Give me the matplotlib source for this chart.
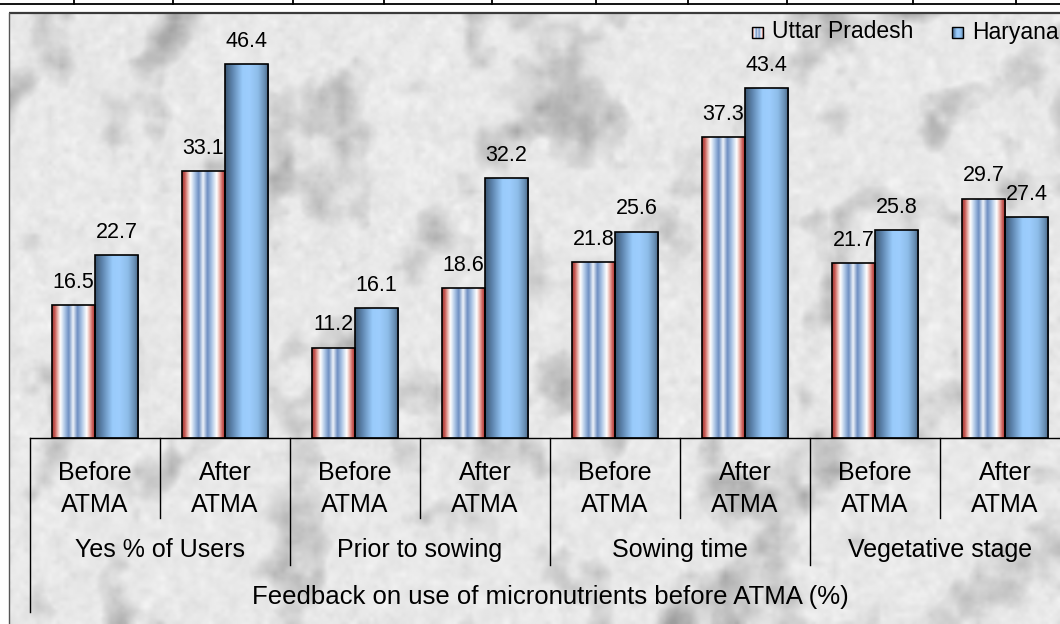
import numpy as np
import matplotlib
matplotlib.use("Agg")
import matplotlib.pyplot as plt
from matplotlib.colors import LinearSegmentedColormap
from matplotlib.patches import Rectangle

# ---- data -------------------------------------------------------------
stages = ["Yes % of Users", "Prior to sowing", "Sowing time", "Vegetative stage"]
periods = ["Before\nATMA", "After\nATMA"]
uttar_pradesh = [16.5, 33.1, 11.2, 18.6, 21.8, 37.3, 21.7, 29.7]
haryana = [22.7, 46.4, 16.1, 32.2, 25.6, 43.4, 25.8, 27.4]
series_names = ["Uttar Pradesh", "Haryana"]
axis_title = "Feedback on use of micronutrients before ATMA (%)"

# ---- figure / coordinate frame ---------------------------------------
W, H = 1060, 624
fig = plt.figure(figsize=(W / 100, H / 100), dpi=100)
ax = fig.add_axes([0, 0, 1, 1])
ax.set_axis_off()

CAT_PX = 130.0        # width of one category in pixels
X0_PX = 30.0          # left edge of first category
BASE_PX = 438.0       # baseline row
UNIT_PX = 8.06        # pixels per percentage point


def px2x(px):
    return (px - X0_PX) / CAT_PX - 0.5


def py2y(py):
    return (BASE_PX - py) / UNIT_PX


ax.set_xlim(px2x(0), px2x(W))
ax.set_ylim(py2y(H), py2y(0))

plt.rcParams["font.family"] = ["Liberation Sans", "DejaVu Sans"]

# ---- marble background panel -----------------------------------------
rng = np.random.default_rng(11)


def upsample(a, shape):
    r = np.linspace(0, a.shape[0] - 1, shape[0])
    c = np.linspace(0, a.shape[1] - 1, shape[1])
    tmp = np.array([np.interp(c, np.arange(a.shape[1]), row) for row in a])
    out = np.array([np.interp(r, np.arange(a.shape[0]), col) for col in tmp.T]).T
    return out


def octave_noise(th, tw, octaves):
    acc = np.zeros((th, tw))
    for n, amp in octaves:
        small = rng.standard_normal((max(2, n * th // tw) + 2, n + 2))
        acc += amp * upsample(small, (th, tw))
    return acc


th, tw = 300, 520
warp = octave_noise(th, tw, [(5, 1.0), (10, 0.6), (20, 0.35)])
mottle = octave_noise(th, tw, [(8, 0.6), (18, 0.8), (40, 0.7), (90, 0.45)])
grain = octave_noise(th, tw, [(130, 0.6), (260, 0.4)])
yy, xx = np.mgrid[0:th, 0:tw]
streak = 0.5 + 0.5 * np.sin(xx * 0.05 + yy * 0.035 + warp * 2.5)
dark = np.clip(mottle * 0.5 + streak ** 2 * 0.9 - 0.5, 0, None)
tex = 0.91 - 0.17 * dark + 0.025 * grain
tex = np.clip(tex, 0.62, 0.98)

px_left, px_top = 9, 13
ax.imshow(tex, cmap="gray", vmin=0, vmax=1, interpolation="bilinear",
          extent=(px2x(px_left), px2x(W), py2y(H), py2y(px_top)),
          aspect="auto", zorder=0)
ax.plot([px2x(px_left), px2x(W)], [py2y(px_top), py2y(px_top)],
        color="#3a3a3a", lw=1.6, zorder=1, solid_capstyle="butt")
ax.plot([px2x(px_left), px2x(px_left)], [py2y(px_top), py2y(H)],
        color="#555555", lw=1.0, zorder=1)

# thin table rule above the panel
ax.plot([px2x(0), px2x(W)], [py2y(4.4), py2y(4.4)], color="black", lw=1.3, zorder=1)
for tx in [74, 173, 293, 384, 492, 596, 688, 787, 913, 1016]:
    ax.plot([px2x(tx), px2x(tx)], [py2y(0), py2y(4.4)], color="black", lw=1.3, zorder=1)

# ---- bars ---------------------------------------------------------------
up_cmap = LinearSegmentedColormap.from_list("up", [
    (0.00, "#9c3b36"), (0.06, "#c4544f"), (0.13, "#e9b4ad"), (0.19, "#ffffff"),
    (0.29, "#aec7e6"), (0.38, "#6e8fc2"), (0.48, "#eef3fa"), (0.58, "#6e8fc2"),
    (0.68, "#aec7e6"), (0.79, "#ffffff"), (0.86, "#e9b4ad"), (0.93, "#c4544f"),
    (1.00, "#9c3b36")])
hr_cmap = LinearSegmentedColormap.from_list("hr", [
    (0.00, "#3b5673"), (0.18, "#6189b3"), (0.40, "#99cbfb"), (0.55, "#9dcdfd"),
    (0.75, "#8ebde9"), (0.90, "#6a90b6"), (1.00, "#45617f")])

x = np.arange(len(uttar_pradesh))
bw = 0.331
grad = np.linspace(0, 1, 256).reshape(1, -1)


def gradient_bars(xs, vals, cmap):
    bars = ax.bar(xs, vals, width=bw, facecolor="none", edgecolor="black",
                  linewidth=1.2, zorder=4)
    for b in bars:
        x0, w, h = b.get_x(), b.get_width(), b.get_height()
        im = ax.imshow(grad, cmap=cmap, extent=(x0, x0 + w, 0, h),
                       aspect="auto", interpolation="bilinear", zorder=3)
        im.set_clip_path(b)
    return bars


up_bars = gradient_bars(x - bw / 2, uttar_pradesh, up_cmap)
hr_bars = gradient_bars(x + bw / 2, haryana, hr_cmap)

for bars, vals in [(up_bars, uttar_pradesh), (hr_bars, haryana)]:
    for b, v in zip(bars, vals):
        ax.annotate(f"{v:.1f}", (b.get_x() + b.get_width() / 2, v),
                    xytext=(0, 16.5), textcoords="offset points",
                    ha="center", va="center", fontsize=15.5, color="black",
                    zorder=6)

# ---- multi-level category axis -------------------------------------------
lw_ax = 1.0
ax.plot([-0.5, px2x(W)], [0, 0], color="black", lw=lw_ax, zorder=5)
n = len(uttar_pradesh)
for k in range(n):
    edge = k - 0.5
    if k == 0:
        bottom = py2y(612)
    elif k % 2 == 0:
        bottom = py2y(565)
    else:
        bottom = py2y(518)
    ax.plot([edge, edge], [0, bottom], color="black", lw=lw_ax, zorder=5)

for k in range(n):
    ax.text(k, py2y(489), periods[k % 2], ha="center", va="center",
            fontsize=18, linespacing=1.4, color="black", zorder=5)
for g, name in enumerate(stages):
    ax.text(2 * g + 0.5, py2y(550), name, ha="center", va="center",
            fontsize=18, color="black", zorder=5)
ax.text((n - 1) / 2, py2y(597), axis_title, ha="center", va="center",
        fontsize=18.5, color="black", zorder=5)

# ---- legend --------------------------------------------------------------
def legend_entry(sx, label, cmap):
    s0, s1 = px2x(sx), px2x(sx + 11)
    y0, y1 = py2y(38), py2y(27)
    r = Rectangle((s0, y0), s1 - s0, y1 - y0, facecolor="none",
                  edgecolor="black", lw=1.0, zorder=7)
    ax.add_patch(r)
    im = ax.imshow(grad, cmap=cmap, extent=(s0, s1, y0, y1), aspect="auto",
                   interpolation="bilinear", zorder=6)
    im.set_clip_path(r)
    ax.text(px2x(sx + 20), py2y(32), label, ha="left", va="center",
            fontsize=16.5, color="black", zorder=7)


legend_entry(752, series_names[0], up_cmap)
legend_entry(952, series_names[1], hr_cmap)

fig.savefig("out.png", dpi=100)
